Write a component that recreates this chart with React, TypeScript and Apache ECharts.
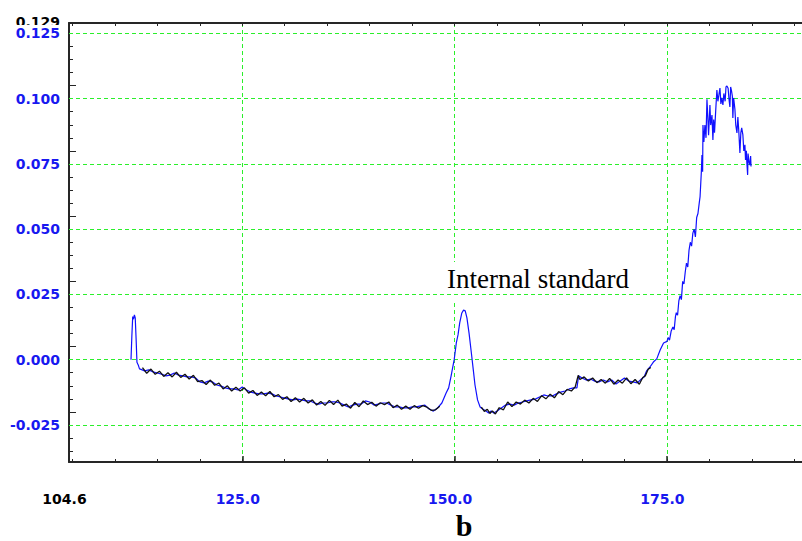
import React, { useEffect, useRef } from "react";
import * as echarts from "echarts";

type Pt = [number, number];

// Detector trace (blue), absorbance vs. time
const spikeTrace: Pt[] = [
  [111.9, 0.0], [112.0, 0.009], [112.1, 0.0165], [112.2, 0.0155], [112.3, 0.0172],
  [112.4, 0.016], [112.5, 0.008], [112.6, -0.001], [112.75, -0.002], [112.9, -0.0035],
];

const lowBaseline: Pt[] = [
  [113.0, -0.0036], [113.5, -0.0043], [114.0, -0.0039], [114.5, -0.0047], [115.0, -0.0051],
  [115.5, -0.0055], [116.0, -0.0062], [116.5, -0.0059], [117.0, -0.0051], [117.5, -0.0059],
  [118.0, -0.0062], [118.5, -0.0066], [119.0, -0.0066], [119.5, -0.007], [120.0, -0.0085],
  [120.5, -0.0089], [121.0, -0.0082], [121.5, -0.0085], [122.0, -0.0097], [122.5, -0.0101],
  [123.0, -0.0108], [123.5, -0.0112], [124.0, -0.0112], [124.5, -0.0116], [125.0, -0.0105],
  [125.5, -0.0116], [126.0, -0.0124], [126.5, -0.0128], [127.0, -0.0131], [127.5, -0.0131],
  [128.0, -0.0128], [128.5, -0.0131], [129.0, -0.0139], [129.5, -0.0143], [130.0, -0.0147],
  [130.5, -0.0151], [131.0, -0.0154], [131.5, -0.0151], [132.0, -0.0154], [132.5, -0.0158],
  [133.0, -0.0158], [133.5, -0.0166], [134.0, -0.017], [134.5, -0.0166], [135.0, -0.0166],
  [135.5, -0.0162], [136.0, -0.0162], [136.5, -0.0166], [137.0, -0.0174], [137.5, -0.0181],
  [138.0, -0.0174], [138.5, -0.017], [139.0, -0.017], [139.5, -0.0158], [140.0, -0.0162],
  [140.5, -0.0174], [141.0, -0.017], [141.5, -0.0166], [142.0, -0.0166], [142.5, -0.0174],
  [143.0, -0.0181], [143.5, -0.0181], [144.0, -0.0185], [144.5, -0.0185], [145.0, -0.0181],
  [145.5, -0.0181], [146.0, -0.0177], [146.5, -0.0174], [147.0, -0.0189], [147.5, -0.0197],
  [148.0, -0.0185], [148.5, -0.0166], [149.0, -0.0128],
];

const standardPeak: Pt[] = [
  [149.3, -0.0108], [149.6, -0.006], [149.95, 0.0], [150.2, 0.0064], [150.4, 0.0095],
  [150.6, 0.0141], [150.85, 0.0179], [151.05, 0.019], [151.25, 0.0187], [151.45, 0.016],
  [151.7, 0.0102], [152.0, 0.0018], [152.2, -0.0039], [152.4, -0.0097], [152.7, -0.0154],
  [153.0, -0.0181], [153.3, -0.0189], [153.7, -0.0197], [154.0, -0.0204], [154.3, -0.0197],
  [154.6, -0.0204], [155.0, -0.0197],
];

const highBaseline: Pt[] = [
  [155.5, -0.0185], [156.0, -0.0174], [156.5, -0.017], [157.0, -0.0174], [157.5, -0.0166],
  [158.0, -0.0162], [158.5, -0.0158], [159.0, -0.0154], [159.5, -0.0151], [160.0, -0.0143],
  [160.5, -0.0135], [161.0, -0.0139], [161.5, -0.0139], [162.0, -0.0131], [162.5, -0.0124],
  [163.0, -0.012], [163.5, -0.0112], [164.0, -0.0108], [164.4, -0.0108], [164.6, -0.0062],
  [165.0, -0.007], [165.5, -0.0078], [166.0, -0.0074], [166.5, -0.0082], [167.0, -0.0085],
  [167.5, -0.0078], [168.0, -0.0085], [168.5, -0.0078], [169.0, -0.0093], [169.5, -0.0082],
  [170.0, -0.007], [170.5, -0.0082], [171.0, -0.0085], [171.5, -0.0089], [172.0, -0.0074],
  [172.3, -0.0066], [172.6, -0.0043], [173.0, -0.0028], [173.4, -0.0009], [173.8, 0.0003],
  [174.2, 0.0037], [174.6, 0.0064],
];

const risingEdge: Pt[] = [
  [175.0, 0.007], [175.15, 0.0085], [175.3, 0.0075], [175.5, 0.011], [175.7, 0.0125],
  [175.85, 0.0115], [176.0, 0.0165], [176.1, 0.018], [176.25, 0.017], [176.4, 0.0225],
  [176.55, 0.0245], [176.7, 0.023], [176.85, 0.03], [177.0, 0.029], [177.15, 0.0335],
  [177.3, 0.037], [177.45, 0.0355], [177.6, 0.042], [177.75, 0.045], [177.9, 0.0435],
  [178.05, 0.0485], [178.2, 0.05], [178.35, 0.047], [178.5, 0.0545], [178.65, 0.056],
  [178.8, 0.06], [178.9, 0.0625],
];

const topNoise: Pt[] = [
  [179.05, 0.072], [179.12, 0.0784], [179.2, 0.072], [179.24, 0.0899], [179.35, 0.0834],
  [179.47, 0.0899], [179.6, 0.085], [179.71, 0.0998], [179.8, 0.0937], [179.9, 0.086],
  [180.06, 0.0976], [180.15, 0.0899], [180.3, 0.0937], [180.41, 0.0842], [180.5, 0.092],
  [180.6, 0.087], [180.75, 0.096], [180.88, 0.1033], [181.0, 0.099], [181.12, 0.1015],
  [181.24, 0.1041], [181.35, 0.098], [181.45, 0.1003], [181.59, 0.0976], [181.7, 0.102],
  [181.85, 0.099], [181.95, 0.1045], [182.06, 0.1049], [182.2, 0.104], [182.3, 0.1],
  [182.41, 0.0968], [182.5, 0.1045], [182.6, 0.103], [182.7, 0.101], [182.76, 0.0926],
  [182.85, 0.1003], [183.0, 0.096], [183.1, 0.09], [183.24, 0.0869], [183.35, 0.093],
  [183.45, 0.088], [183.59, 0.0792], [183.7, 0.087], [183.8, 0.0888], [183.94, 0.0861],
  [184.05, 0.08], [184.18, 0.0823], [184.25, 0.0765], [184.35, 0.08], [184.41, 0.0754],
  [184.5, 0.0708], [184.55, 0.079], [184.65, 0.076], [184.76, 0.0746], [184.85, 0.078],
  [184.9, 0.074],
];

// Second (black) reading over the flat stretches
const blackLow: Pt[] = [
  [113.25, -0.003], [113.75, -0.0052], [114.25, -0.0036], [114.75, -0.0056], [115.25, -0.0044],
  [115.75, -0.0064], [116.25, -0.005], [116.75, -0.0066], [117.25, -0.0048], [117.75, -0.0068],
  [118.25, -0.0056], [118.75, -0.0074], [119.25, -0.006], [119.75, -0.0084], [120.25, -0.008],
  [120.75, -0.0095], [121.25, -0.0078], [121.75, -0.0098], [122.25, -0.009], [122.75, -0.0112],
  [123.25, -0.01], [123.75, -0.012], [124.25, -0.0106], [124.75, -0.012], [125.25, -0.0108],
  [125.75, -0.0128], [126.25, -0.0118], [126.75, -0.0137], [127.25, -0.0124], [127.75, -0.0138],
  [128.25, -0.0122], [128.75, -0.0142], [129.25, -0.0134], [129.75, -0.0152], [130.25, -0.0142],
  [130.75, -0.016], [131.25, -0.0146], [131.75, -0.0162], [132.25, -0.0148], [132.75, -0.0166],
  [133.25, -0.0154], [133.75, -0.0174], [134.25, -0.016], [134.75, -0.0175], [135.25, -0.0156],
  [135.75, -0.0172], [136.25, -0.0155], [136.75, -0.0178], [137.25, -0.017], [137.75, -0.0186],
  [138.25, -0.0164], [138.75, -0.018], [139.25, -0.0158], [139.75, -0.0172], [140.25, -0.0163],
  [140.75, -0.0178], [141.25, -0.0165], [141.75, -0.0172], [142.25, -0.0162], [142.75, -0.0184],
  [143.25, -0.0174], [143.75, -0.019], [144.25, -0.0178], [144.75, -0.019], [145.25, -0.0176],
  [145.75, -0.0186], [146.25, -0.0176], [146.75, -0.0182], [147.25, -0.0194], [147.75, -0.0192],
  [148.25, -0.0178],
];

const blackHigh: Pt[] = [
  [153.15, -0.0182], [153.5, -0.0198], [153.85, -0.019], [154.15, -0.0206], [154.45, -0.0196],
  [154.8, -0.0208], [155.25, -0.0184], [155.75, -0.0192], [156.25, -0.0162], [156.75, -0.018],
  [157.25, -0.0162], [157.75, -0.017], [158.25, -0.0155], [158.75, -0.0166], [159.25, -0.0148],
  [159.75, -0.016], [160.25, -0.0138], [160.75, -0.015], [161.25, -0.0132], [161.75, -0.0146],
  [162.25, -0.0122], [162.75, -0.0134], [163.25, -0.0114], [163.75, -0.012], [164.2, -0.0104],
  [164.55, -0.006], [164.75, -0.0076], [165.25, -0.0066], [165.75, -0.0082], [166.25, -0.007],
  [166.75, -0.0088], [167.25, -0.0076], [167.75, -0.009], [168.25, -0.0072], [168.75, -0.0094],
  [169.25, -0.0078], [169.75, -0.009], [170.25, -0.007], [170.75, -0.0092], [171.25, -0.0076],
  [171.75, -0.0094], [172.15, -0.0068], [172.45, -0.0062], [172.8, -0.0036], [173.1, -0.003],
];

// Axis ranges and tick positions
const X_MIN = 104.6;
const X_MAX = 190.9;
const Y_MIN = -0.0392;
const Y_MAX = 0.129;
const xMinorTicks = [105, 110, 115, 120, 125, 130, 135, 140, 145, 150, 155, 160, 165, 170, 175, 180, 185, 190];
const xMajorTicks = [125, 150, 175];
const xLabelValues = [104.6, 125, 150, 175];
const yMinorTicks = [
  -0.035, -0.03, -0.025, -0.02, -0.015, -0.01, -0.005, 0, 0.005, 0.01, 0.015, 0.02, 0.025, 0.03,
  0.035, 0.04, 0.045, 0.05, 0.055, 0.06, 0.065, 0.07, 0.075, 0.08, 0.085, 0.09, 0.095, 0.1, 0.105,
  0.11, 0.115, 0.12, 0.125,
];
const yLongTicks = [-0.02, 0.005, 0.03, 0.055, 0.08, 0.105];
const yLabelValues = [-0.025, 0, 0.025, 0.05, 0.075, 0.1, 0.125];
const yTopLabel = "0.129";
const peakLabel = "Internal standard";
const panelLabel = "b";

const AXIS_COLOR = "#262626";
const GRID_GREEN = "#2bef2b";
const LABEL_BLUE = "#1818f0";
const LABEL_FONT = "DejaVu Sans";

export default function App() {
  const ref = useRef<HTMLDivElement>(null);

  useEffect(() => {
    if (!ref.current) return;
    const chart = echarts.init(ref.current, undefined, { renderer: "svg" });

    const blueTrace = [...spikeTrace, ...lowBaseline, ...standardPeak, ...highBaseline, ...risingEdge, ...topNoise];
    const gridLine = { show: true, lineStyle: { color: GRID_GREEN, type: [4, 3] as number[], width: 1 } };

    const baseX = { type: "value" as const, min: X_MIN, max: X_MAX, gridIndex: 0 };
    const baseY = { type: "value" as const, min: Y_MIN, max: Y_MAX, gridIndex: 0 };
    const solidLine = { show: true, onZero: false, lineStyle: { color: AXIS_COLOR, width: 2 } };
    const noLine = { show: false, onZero: false };

    chart.setOption({
      animation: false,
      grid: { left: 69, top: 23, right: 0, bottom: 79, containLabel: false },
      xAxis: [
        {
          ...baseX,
          position: "bottom",
          axisLine: solidLine,
          axisTick: { show: true, inside: true, length: 3, customValues: xMinorTicks, lineStyle: { color: AXIS_COLOR, width: 1 } },
          axisLabel: { show: false },
          splitLine: { show: false },
        },
        {
          ...baseX,
          position: "bottom",
          axisLine: noLine,
          axisTick: { show: true, inside: true, length: 6, customValues: xMajorTicks, lineStyle: { color: AXIS_COLOR, width: 1.5 } },
          axisLabel: {
            show: true,
            customValues: xLabelValues,
            showMinLabel: true,
            margin: 30,
            padding: [0, 9, 0, 0],
            formatter: (v: number) => (v < 105 ? `{k|${v.toFixed(1)}}` : `{b|${v.toFixed(1)}}`),
            rich: {
              k: { color: "#000", fontFamily: LABEL_FONT, fontWeight: "bold", fontSize: 14 },
              b: { color: LABEL_BLUE, fontFamily: LABEL_FONT, fontWeight: "bold", fontSize: 14 },
            },
          },
          splitLine: gridLine,
        },
        {
          ...baseX,
          position: "top",
          axisLine: solidLine,
          axisTick: { show: true, inside: true, length: 3, customValues: xMinorTicks, lineStyle: { color: AXIS_COLOR, width: 1 } },
          axisLabel: { show: false },
          splitLine: { show: false },
        },
      ],
      yAxis: [
        {
          ...baseY,
          position: "left",
          axisLine: solidLine,
          axisTick: { show: true, inside: true, length: 4, customValues: yMinorTicks, lineStyle: { color: AXIS_COLOR, width: 1 } },
          axisLabel: { show: false },
          splitLine: { show: false },
        },
        {
          ...baseY,
          position: "left",
          axisLine: noLine,
          axisTick: { show: true, inside: true, length: 7, customValues: yLongTicks, lineStyle: { color: AXIS_COLOR, width: 1 } },
          axisLabel: { show: false },
          splitLine: { show: false },
        },
        {
          ...baseY,
          position: "left",
          z: 3,
          axisLine: noLine,
          axisTick: { show: false, customValues: yLabelValues },
          axisLabel: {
            show: true,
            customValues: yLabelValues,
            showMinLabel: true,
            showMaxLabel: true,
            margin: 9,
            color: LABEL_BLUE,
            fontFamily: LABEL_FONT,
            fontWeight: "bold",
            fontSize: 14,
            lineHeight: 11,
            formatter: (v: number) => v.toFixed(3),
          },
          splitLine: gridLine,
        },
      ],
      graphic: [
        {
          type: "text",
          x: 60,
          y: 21.5,
          z: 1,
          style: {
            text: yTopLabel, align: "right", verticalAlign: "middle", fontFamily: LABEL_FONT,
            fontWeight: "bold", fontSize: 14, lineHeight: 10, fill: "#000",
          },
        },
        { type: "rect", z: 2, shape: { x: 0, y: 25, width: 64, height: 2.8 }, style: { fill: "#fff" } },
        { type: "rect", z: 1, shape: { x: 427, y: 262, width: 225, height: 38 }, style: { fill: "#fff" } },
        {
          type: "text",
          x: 538,
          y: 279,
          z: 2,
          style: { text: peakLabel, align: "center", verticalAlign: "middle", fontFamily: "Liberation Serif", fontSize: 27, fill: "#000" },
        },
        {
          type: "text",
          x: 464,
          y: 525,
          z: 2,
          style: {
            text: panelLabel, align: "center", verticalAlign: "middle", fontFamily: "Liberation Serif",
            fontWeight: "bold", fontSize: 30, lineHeight: 28, fill: "#000",
          },
        },
      ],
      series: [
        {
          type: "line",
          data: blueTrace,
          xAxisIndex: 0,
          yAxisIndex: 0,
          showSymbol: false,
          silent: true,
          z: 3,
          lineStyle: { color: "#1010ff", width: 1.2 },
        },
        {
          type: "line",
          data: blackLow,
          xAxisIndex: 0,
          yAxisIndex: 0,
          showSymbol: false,
          silent: true,
          z: 4,
          lineStyle: { color: "#111", width: 1.3 },
        },
        {
          type: "line",
          data: blackHigh,
          xAxisIndex: 0,
          yAxisIndex: 0,
          showSymbol: false,
          silent: true,
          z: 4,
          lineStyle: { color: "#111", width: 1.3 },
        },
      ],
    });

    return () => chart.dispose();
  }, []);

  return <div ref={ref} style={{ position: "absolute", left: 0, top: 0, width: 802, height: 541, background: "#fff" }} />;
}
